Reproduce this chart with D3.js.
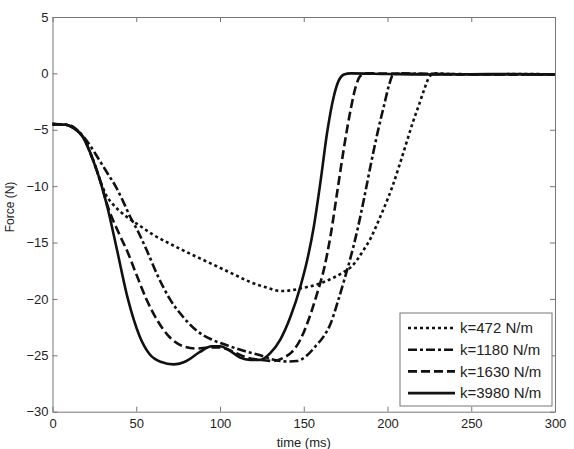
<!DOCTYPE html>
<meta charset="utf-8" />
<title>Force vs time</title>
<script src="https://d3js.org/d3.v7.min.js"></script>
<style>
  body { margin: 0; background: #fff; }
  svg { display: block; font-family: "Liberation Sans", Arial, sans-serif; }
  .tick text { font-size: 13px; fill: #222; }
</style>
<div id="chart"></div>
<script>
  var width = 574, height = 449;
  var margin = { top: 17, right: 19, bottom: 37.3, left: 52.5 };

  // time samples (ms) and force (N) for each spring stiffness
  var t472 = [0, 8, 12, 18, 24, 28, 32, 36, 40, 46, 53, 60, 70, 78, 88, 98, 108, 118, 128, 136, 144, 150, 156, 162, 168, 174, 178, 182, 186, 190, 194, 198, 203, 207, 211, 215, 219, 222, 225, 228, 240, 260, 280, 300];
  var f472 = [-4.5, -4.55, -4.8, -5.6, -7.6, -9.3, -10.8, -11.6, -12.2, -12.9, -13.6, -14.3, -15.1, -15.7, -16.4, -17.1, -17.8, -18.5, -19.0, -19.3, -19.2, -19.0, -18.8, -18.5, -18.1, -17.6, -17.2, -16.5, -15.6, -14.6, -13.3, -11.9, -10.0, -8.2, -6.3, -4.4, -2.7, -1.4, -0.3, 0, -0.05, -0.1, -0.05, -0.1];

  var t1180 = [0, 8, 12, 16, 22, 28, 33, 38, 42, 46, 51, 56, 63, 70, 78, 86, 95, 104, 114, 124, 132, 140, 146, 152, 157, 162, 166, 170, 174, 178, 182, 186, 190, 194, 198, 201, 203, 207, 230, 260, 300];
  var f1180 = [-4.5, -4.55, -4.7, -5.2, -6.3, -7.7, -8.9, -10.1, -11.3, -12.6, -14.0, -15.6, -18.0, -20.0, -21.6, -22.8, -23.6, -24.1, -24.6, -25.0, -25.4, -25.55, -25.5, -25.0, -24.2, -23.3, -22.2, -20.4, -18.4, -16.3, -13.9, -11.1, -8.1, -5.3, -2.8, -1.0, -0.2, 0, -0.05, -0.1, -0.1];

  var t1630 = [0, 8, 12, 18, 24, 28, 33, 40, 45, 50, 56, 63, 70, 78, 86, 94, 100, 108, 116, 124, 132, 138, 143, 148, 153, 158, 162, 166, 170, 174, 178, 181, 184, 188, 220, 260, 300];
  var f1630 = [-4.5, -4.55, -4.8, -5.6, -7.6, -9.3, -11.8, -14.3, -15.9, -17.8, -20.0, -22.0, -23.4, -24.2, -24.4, -24.3, -24.3, -24.7, -25.2, -25.4, -25.5, -25.2, -24.7, -23.6, -21.8, -19.5, -17.4, -14.4, -10.5, -6.6, -3.2, -1.2, -0.2, 0, -0.05, -0.1, -0.1];

  var t3980 = [0, 8, 12, 18, 24, 28, 33, 38, 45, 52, 58, 65, 72, 80, 88, 95, 100, 106, 112, 118, 124, 130, 136, 142, 148, 152, 156, 160, 164, 168, 171, 174, 178, 200, 230, 260, 300];
  var f3980 = [-4.5, -4.55, -4.8, -5.6, -7.6, -9.3, -12.0, -15.3, -20.0, -23.3, -24.9, -25.6, -25.8, -25.5, -24.7, -24.2, -24.2, -24.6, -25.2, -25.4, -25.4, -24.8, -23.6, -21.6, -18.9, -16.6, -13.6, -9.6, -5.2, -2.0, -0.6, -0.1, 0, -0.05, -0.1, -0.05, -0.1];

  var seriesLabels = ["k=472 N/m", "k=1180 N/m", "k=1630 N/m", "k=3980 N/m"];
  var seriesTimes = [t472, t1180, t1630, t3980];
  var seriesForces = [f472, f1180, f1630, f3980];
  var dashes = ["3,3", "9,3,3,3", "9,4", null];

  var xTicks = [0, 50, 100, 150, 200, 250, 300];
  var yTicks = [5, 0, -5, -10, -15, -20, -25, -30];

  var svg = d3
    .select("#chart")
    .append("svg")
    .attr("width", width)
    .attr("height", height);

  var x = d3
    .scaleLinear()
    .domain([0, 300])
    .range([margin.left, width - margin.right]);
  var y = d3
    .scaleLinear()
    .domain([-30, 5])
    .range([height - margin.bottom, margin.top]);

  // box axes with inward ticks (matlab style)
  var xAxis = d3.axisBottom(x).tickValues(xTicks).tickSizeInner(-5).tickSizeOuter(0).tickPadding(7);
  var yAxis = d3.axisLeft(y).tickValues(yTicks).tickSizeInner(-5).tickSizeOuter(0).tickPadding(4);

  var gx = svg.append("g").attr("transform", "translate(0," + y(-30) + ")").call(xAxis);
  var gy = svg.append("g").attr("transform", "translate(" + x(0) + ",0)").call(yAxis);
  var gxTop = svg.append("g").attr("transform", "translate(0," + y(5) + ")")
    .call(d3.axisTop(x).tickValues(xTicks).tickSizeInner(-5).tickSizeOuter(0).tickFormat(""));
  var gyRight = svg.append("g").attr("transform", "translate(" + x(300) + ",0)")
    .call(d3.axisRight(y).tickValues(yTicks).tickSizeInner(-5).tickSizeOuter(0).tickFormat(""));

  [gx, gy, gxTop, gyRight].forEach(function (g) {
    g.selectAll("path, line").attr("stroke", "#777").attr("stroke-width", 1);
  });

  var line = d3
    .line()
    .x((d) => x(d[0]))
    .y((d) => y(d[1]))
    .curve(d3.curveMonotoneX);

  seriesTimes.forEach(function (ts, i) {
    var pts = ts.map((t, j) => [t, seriesForces[i][j]]);
    svg
      .append("path")
      .datum(pts)
      .attr("fill", "none")
      .attr("stroke", "#111")
      .attr("stroke-width", 2.6)
      .attr("stroke-dasharray", dashes[i])
      .attr("d", line);
  });

  // axis titles
  svg.append("text")
    .attr("x", (x(0) + x(300)) / 2)
    .attr("y", 447)
    .attr("text-anchor", "middle")
    .attr("font-size", 13)
    .attr("fill", "#222")
    .text("time (ms)");

  svg.append("text")
    .attr("transform", "translate(14,207) rotate(-90)")
    .attr("text-anchor", "middle")
    .attr("font-size", 12)
    .attr("fill", "#222")
    .text("Force (N)");

  // legend
  var lg = svg.append("g");
  lg.append("rect")
    .attr("x", 400).attr("y", 313)
    .attr("width", 152).attr("height", 93)
    .attr("fill", "#fff")
    .attr("stroke", "#777");

  seriesLabels.forEach(function (lab, i) {
    var ly = 328 + i * 21.7;
    lg.append("line")
      .attr("x1", 408).attr("x2", 455)
      .attr("y1", ly).attr("y2", ly)
      .attr("stroke", "#111")
      .attr("stroke-width", 2.6)
      .attr("stroke-dasharray", dashes[i]);
    lg.append("text")
      .attr("x", 460).attr("y", ly)
      .attr("dy", "0.35em")
      .attr("font-size", 15)
      .attr("fill", "#222")
      .text(lab);
  });
</script>
